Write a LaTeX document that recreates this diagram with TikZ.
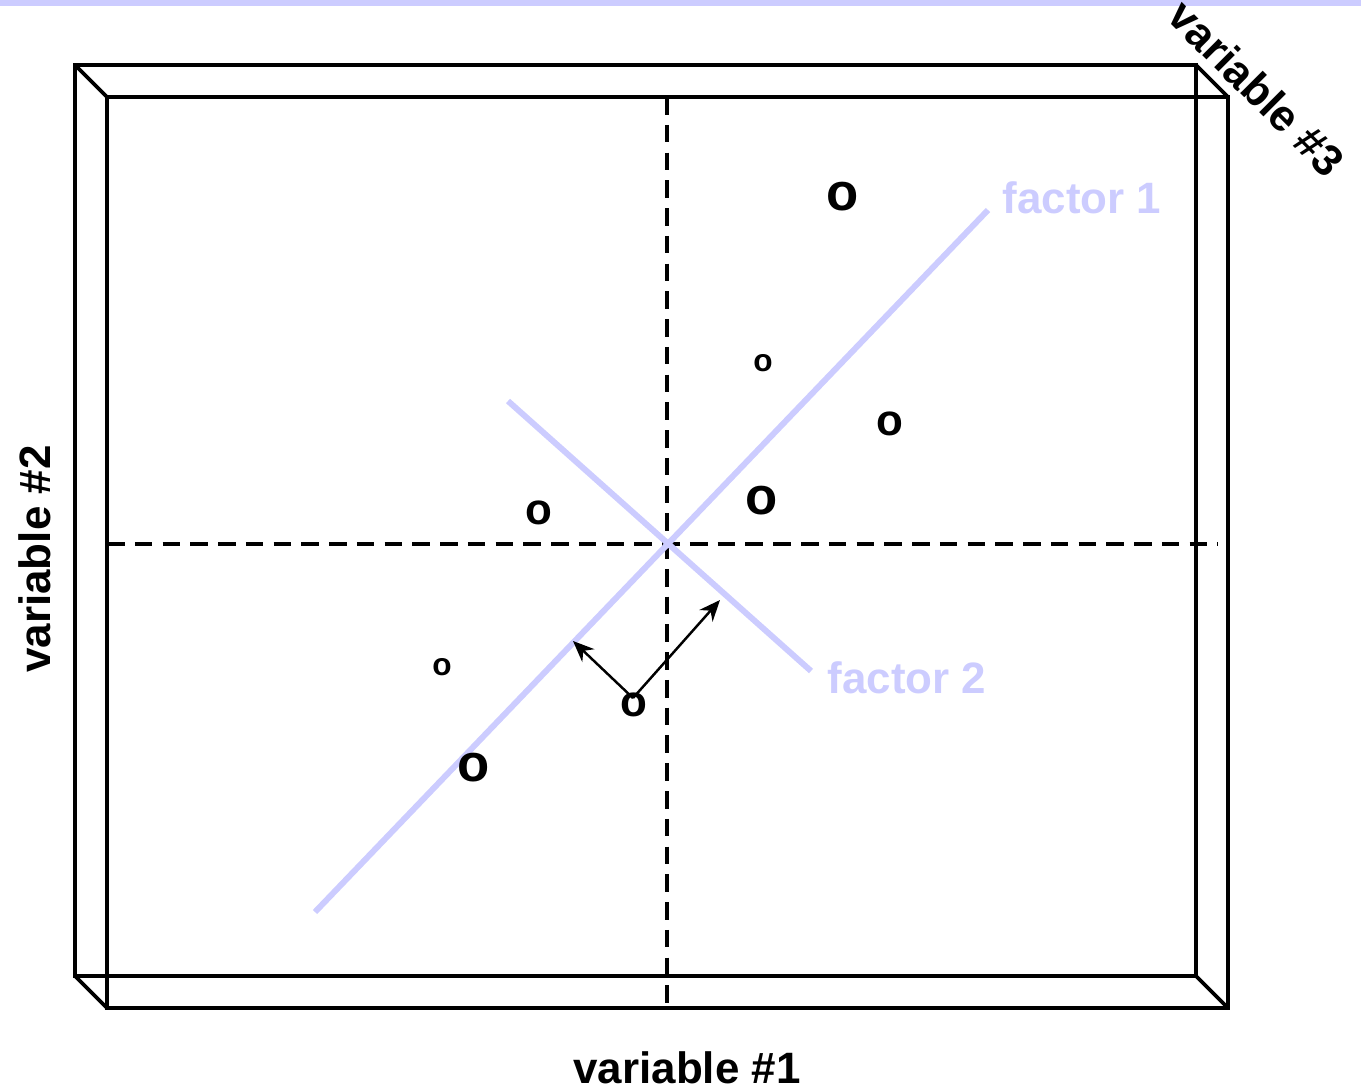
\documentclass[tikz,border=0pt]{standalone}
\usepackage{fontspec}
\setmainfont{Liberation Sans}
\usetikzlibrary{arrows.meta}
\definecolor{lilac}{HTML}{CCCCFF}

\begin{document}
\begin{tikzpicture}[x=0.02cm,y=-0.02cm,
frame/.style={line width=2.1pt,line join=miter},
axis/.style={line width=2.1pt,dash pattern=on 10pt off 5.8pt},
fac/.style={draw=lilac,line width=3.4pt},
lab/.style={inner sep=0pt,font=\fontsize{25}{30}\selectfont\bfseries},
flab/.style={lab,text=lilac},
obs/.style={inner sep=0pt,font=\fontsize{#1}{#1}\selectfont\bfseries},
arr/.style={-{Stealth[length=12pt,width=10pt]},line width=1.4pt}]
\useasboundingbox (0,0) rectangle (1361,1090);
\fill[lilac] (0,0) rectangle (1361,6);
\draw[frame] (75,65) rectangle (1196,976);
\draw[frame] (107,97) rectangle (1228,1008);
\draw[frame] (75,65)--(107,97) (1196,65)--(1228,97) (75,976)--(107,1008) (1196,976)--(1228,1008);
\coordinate (vt) at (667,97); \coordinate (vb) at (667,1008);
\coordinate (hl) at (107,544); \coordinate (hr) at (1218,544);
\draw[axis] (vt)--(vb); \draw[axis] (hl)--(hr);
\coordinate (f1a) at (315,912); \coordinate (f1b) at (988,210);
\coordinate (f2a) at (508,401); \coordinate (f2b) at (811,671);
\draw[fac] (f1a)--(f1b); \draw[fac] (f2a)--(f2b);
\node[flab] (fac1) at (1082,198) {factor 1};
\node[flab] (fac2) at (907,678) {factor 2};
\node[obs=30] (p1) at (843,197) {o};
\node[obs=18] (p2) at (763,363) {o};
\node[obs=25] (p3) at (890,424) {o};
\node[obs=30] (p4) at (762,501) {o};
\node[obs=25] (p5) at (539,513) {o};
\node[obs=18] (p6) at (442,667) {o};
\node[obs=25] (p7) at (634,705) {o};
\node[obs=30] (p8) at (474,768) {o};
\coordinate (base) at (633,698);
\coordinate (tipl) at (573,641); \coordinate (tipr) at (720,600);
\draw[arr] (base)--(tipl); \draw[arr] (base)--(tipr);
\node[lab] (var1) at (687,1068) {variable \#1};
\node[lab,rotate=90] (var2) at (35,559) {variable \#2};
\node[lab,rotate=-45] (var3) at (1257,88) {variable \#3};
\end{tikzpicture}
\end{document}
